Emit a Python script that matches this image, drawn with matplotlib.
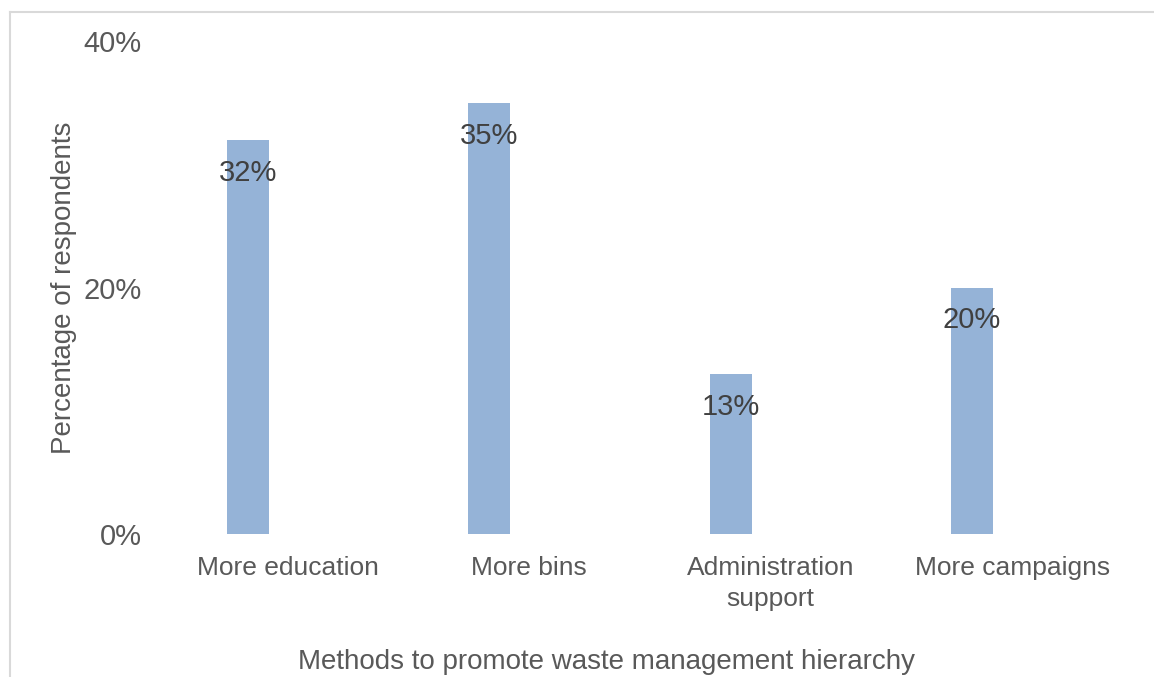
import matplotlib
matplotlib.use("Agg")
import matplotlib.pyplot as plt
from matplotlib.lines import Line2D
from matplotlib.ticker import FuncFormatter
from matplotlib.transforms import ScaledTranslation

methods = ["More education", "More bins", "Administration\nsupport", "More campaigns"]
share = [32, 35, 13, 20]
y_ticks = [0, 20, 40]

plt.rcParams["font.family"] = ["Liberation Sans", "DejaVu Sans"]

fig = plt.figure(figsize=(11.54, 6.77), dpi=100)
ax = fig.add_axes([0.130, 0.2112, 0.817, 0.7282])

x = list(range(len(methods)))
bars = ax.bar(x, share, width=0.174, color="#95b3d7")

for b, v in zip(bars, share):
    ax.annotate("%d%%" % v, (b.get_x() + b.get_width() / 2, v),
                xytext=(0, -29.5), textcoords="offset points",
                ha="center", va="baseline", fontsize=21, color="#404040")

ax.set_xlim(-0.405, 3.5)
ax.set_ylim(0, 40)
ax.set_yticks(y_ticks)
ax.yaxis.set_major_formatter(FuncFormatter(lambda v, p: "%d%%" % v))
ax.set_xticks(x)
ax.set_xticklabels(methods, linespacing=1.42)
ax.tick_params(axis="both", length=0, labelcolor="#595959")
ax.tick_params(axis="y", pad=6, labelsize=21)
ax.tick_params(axis="x", pad=9, labelsize=19)
for s in ax.spines.values():
    s.set_visible(False)

# category labels sit a little right of and below their bars
shift = ScaledTranslation(0.40, -0.09, fig.dpi_scale_trans)
for lbl in ax.get_xticklabels():
    lbl.set_transform(lbl.get_transform() + shift)

ax.set_ylabel("Percentage of respondents", fontsize=20, color="#595959")
ax.yaxis.set_label_coords(-0.077, 0.5)
ax.set_xlabel("Methods to promote waste management hierarchy", fontsize=20, color="#595959")
ax.xaxis.set_label_coords(0.484, -0.233)

# chart frame, left and top edges
fig.add_artist(Line2D([10 / 1154, 10 / 1154], [0, 1 - 12 / 677], transform=fig.transFigure,
                      color="#d9d9d9", lw=1.5))
fig.add_artist(Line2D([10 / 1154, 1], [1 - 12 / 677, 1 - 12 / 677], transform=fig.transFigure,
                      color="#d9d9d9", lw=1.5))

fig.savefig("out.png", dpi=100)
